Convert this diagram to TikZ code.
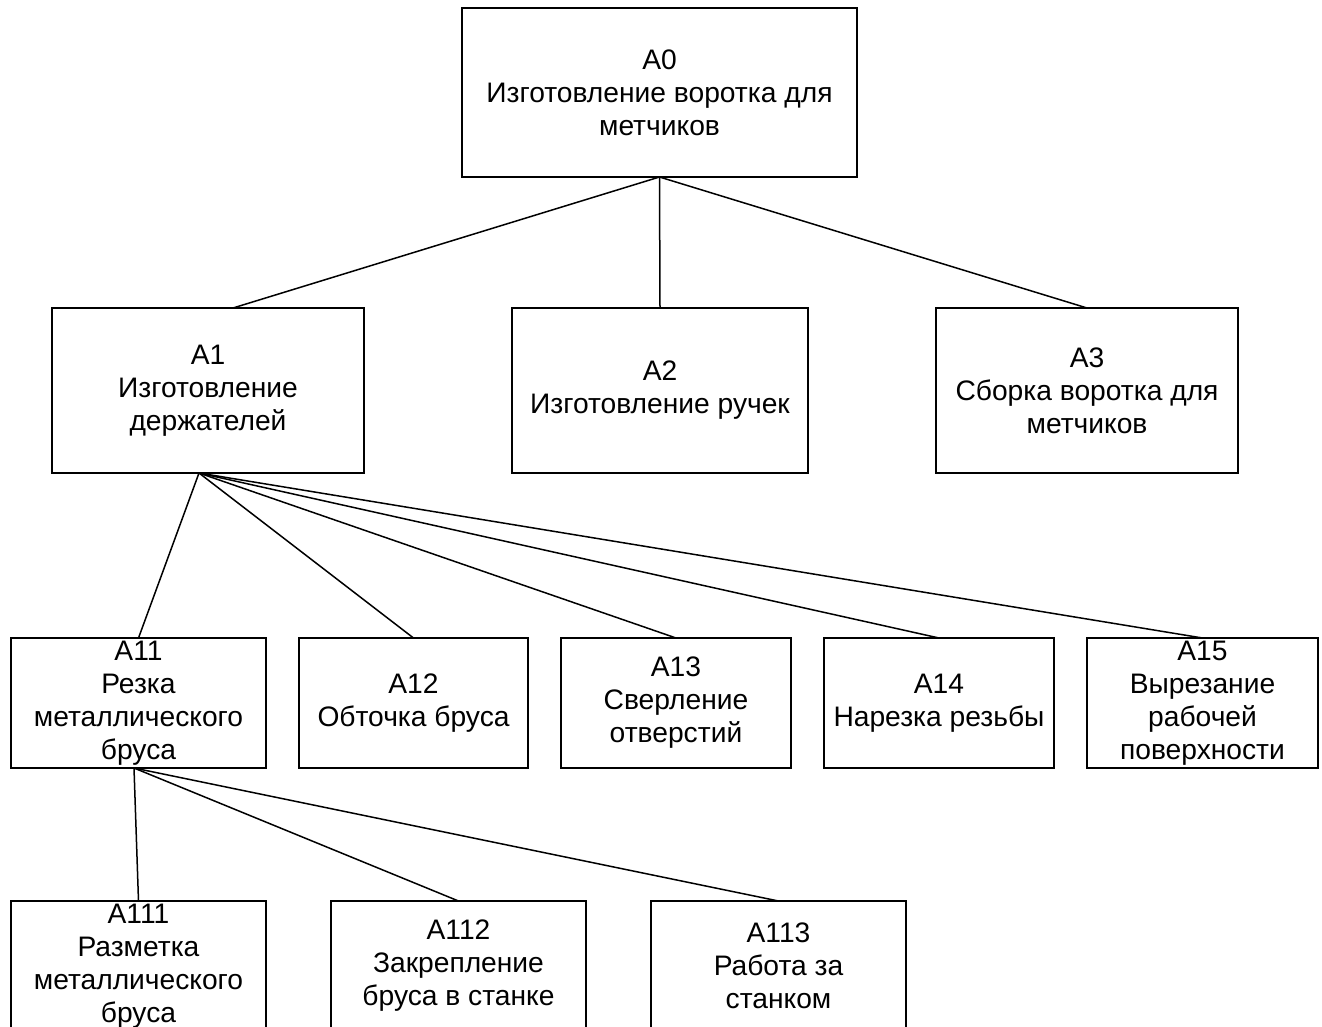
\documentclass[tikz,border=0pt]{standalone}
\usepackage{fontspec}
\setmainfont{Liberation Sans}
\usetikzlibrary{positioning}

\begin{document}
\begin{tikzpicture}[x=1pt,y=1pt,node distance=16.5pt,box/.style={draw,line width=0.75pt,anchor=north west,align=center,inner sep=0pt,outer sep=0pt,minimum width=115pt,minimum height=65pt,font=\fontsize{14.1}{16.5}\selectfont},link/.style={line width=0.75pt}]
\useasboundingbox (0,0) rectangle (661,-513.5);
\clip (0,0) rectangle (661,-513.5);
\node[box,minimum width=197.5pt,minimum height=84.5pt] (a0) at (231,-4) {A0\\Изготовление воротка для\\метчиков};
\node[box,minimum width=156pt,minimum height=82.5pt] (a1) at (26,-154) {A1\\Изготовление\\держателей};
\node[box,minimum width=148pt,minimum height=82.5pt,right=74pt of a1] (a2) {A2\\Изготовление ручек};
\node[box,minimum width=151pt,minimum height=82.5pt,right=64pt of a2] (a3) {A3\\Сборка воротка для\\метчиков};
\node[box,minimum width=127.5pt] (a11) at (5.5,-319) {A11\\Резка\\металлического\\бруса};
\node[box,minimum width=114.5pt,right=of a11] (a12) {A12\\Обточка бруса};
\node[box,right=of a12] (a13) {A13\\Сверление\\отверстий};
\node[box,right=of a13] (a14) {A14\\Нарезка резьбы};
\node[box,minimum width=115.5pt,right=of a14] (a15) {A15\\Вырезание\\рабочей\\поверхности};
\node[box,minimum width=127.5pt] (a111) at (5.5,-450.5) {A111\\Разметка\\металлического\\бруса};
\node[box,minimum width=127.5pt,right=32.5pt of a111] (a112) {A112\\Закрепление\\бруса в станке};
\node[box,minimum width=127.5pt,right=32.5pt of a112] (a113) {A113\\Работа за\\станком};
\draw[link](a0.south)--([xshift=12.5pt]a1.north);\draw[link](a0.south)--(a2.north);\draw[link](a0.south)--(a3.north);
\foreach \n in {a11,a12,a13,a14,a15} \draw[link]([xshift=-4.5pt]a1.south)--(\n.north);
\foreach \n in {a111,a112,a113} \draw[link]([xshift=-2.25pt]a11.south)--(\n.north);
\end{tikzpicture}
\end{document}
